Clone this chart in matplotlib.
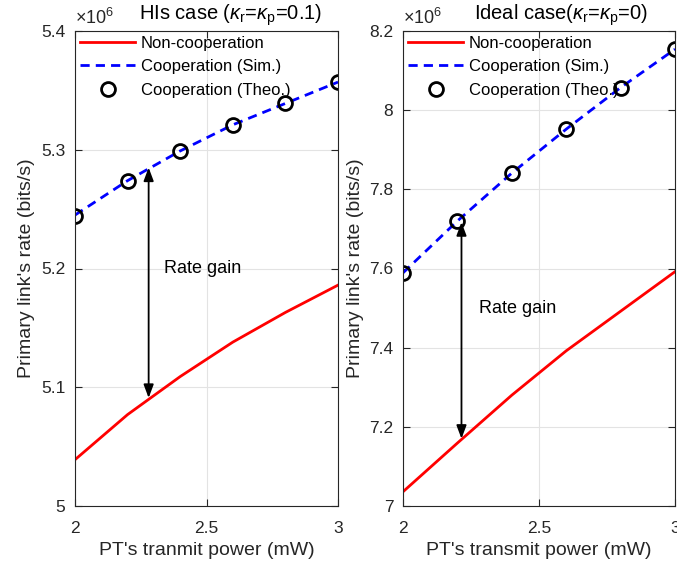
import matplotlib
matplotlib.use('Agg')
import matplotlib.pyplot as plt
from matplotlib.ticker import FuncFormatter

plt.rcParams['font.family'] = ['Liberation Sans', 'DejaVu Sans']
plt.rcParams['mathtext.fontset'] = 'custom'
plt.rcParams['mathtext.rm'] = 'Liberation Sans'
plt.rcParams['mathtext.it'] = 'Liberation Sans:italic'

# PT transmit power (mW)
power = [2.0, 2.2, 2.4, 2.6, 2.8, 3.0]

# HIs case, rates in x10^6 bits/s
his_noncoop = [5.039, 5.077, 5.109, 5.138, 5.163, 5.186]
his_coop_sim = [5.245, 5.274, 5.299, 5.321, 5.339, 5.357]
his_coop_theo = [5.244, 5.274, 5.299, 5.321, 5.339, 5.357]

# ideal case, rates in x10^6 bits/s
ideal_noncoop = [7.036, 7.159, 7.280, 7.392, 7.492, 7.592]
ideal_coop_sim = [7.589, 7.720, 7.841, 7.952, 8.057, 8.154]
ideal_coop_theo = [7.589, 7.720, 7.841, 7.952, 8.057, 8.154]

# rate gain arrows: x, low end, high end ; text position
his_arrow = (2.28, 5.091, 5.285)
his_text = (2.34, 5.20)
ideal_arrow = (2.215, 7.170, 7.717)
ideal_text = (2.28, 7.50)

dark = '#262626'

fig = plt.figure(figsize=(6.77, 5.70), dpi=100)
ax1 = fig.add_axes([75 / 677, 64 / 570, 263 / 677, 475 / 570])
ax2 = fig.add_axes([403 / 677, 64 / 570, 272 / 677, 475 / 570])

xlabels = {ax1: "PT's tranmit power (mW)", ax2: "PT's transmit power (mW)"}


def draw(ax, noncoop, sim, theo, ylim, yticks, title, title_x, arrow, txt):
    ax.plot(power, noncoop, color='red', lw=2, label='Non-cooperation')
    ax.plot(power, sim, color='blue', lw=2, ls=(0, (3.3, 2.2)), label='Cooperation (Sim.)')
    ax.plot(power, theo, ls='none', marker='o', ms=10, mfc='none', mec='black',
            mew=2, label='Cooperation (Theo.)')
    ax.set_xlim(2, 3)
    ax.set_ylim(*ylim)
    ax.set_xticks([2, 2.5, 3])
    ax.set_yticks(yticks)
    fmt = FuncFormatter(lambda v, p: '%g' % round(v, 3))
    ax.xaxis.set_major_formatter(fmt)
    ax.yaxis.set_major_formatter(fmt)
    ax.grid(True, color='#e3e3e3', lw=0.8)
    ax.set_axisbelow(True)
    ax.tick_params(direction='in', top=True, right=True, length=5, width=0.8,
                   colors=dark, labelsize=12.5)
    ax.tick_params(axis='x', pad=11)
    ax.tick_params(axis='y', pad=7)
    for s in ax.spines.values():
        s.set_color(dark)
        s.set_linewidth(0.8)
    ax.set_xlabel(xlabels[ax], fontsize=14, color=dark, labelpad=4)
    ax.set_ylabel("Primary link's rate (bits/s)", fontsize=14, color=dark, labelpad=4)
    ax.set_title(title, fontsize=14.5, x=title_x, pad=8)
    ax.text(0.0, 1.006, r'$\times$10$^{6}$', transform=ax.transAxes, fontsize=13,
            color=dark, ha='left', va='bottom')
    ax.annotate('', xy=(arrow[0], arrow[2]), xytext=(arrow[0], arrow[1]),
                arrowprops=dict(arrowstyle='<|-|>,head_length=0.8,head_width=0.3',
                                color='black', lw=1.3, shrinkA=0, shrinkB=0))
    ax.text(txt[0], txt[1], 'Rate gain', fontsize=13, ha='left', va='center')
    ax.legend(loc='upper left', frameon=False, fontsize=12, handlelength=3.3,
              borderaxespad=0.0, borderpad=0.3, labelspacing=0.5, handletextpad=0.35)


draw(ax1, his_noncoop, his_coop_sim, his_coop_theo, (5.0, 5.4),
     [5.0, 5.1, 5.2, 5.3, 5.4], r'HIs case ($\kappa_{\rm r}$=$\kappa_{\rm p}$=0.1)', 0.59,
     his_arrow, his_text)
draw(ax2, ideal_noncoop, ideal_coop_sim, ideal_coop_theo, (7.0, 8.2),
     [7.0, 7.2, 7.4, 7.6, 7.8, 8.0, 8.2], r'Ideal case($\kappa_{\rm r}$=$\kappa_{\rm p}$=0)', 0.58,
     ideal_arrow, ideal_text)

fig.savefig('out.png', dpi=100)
